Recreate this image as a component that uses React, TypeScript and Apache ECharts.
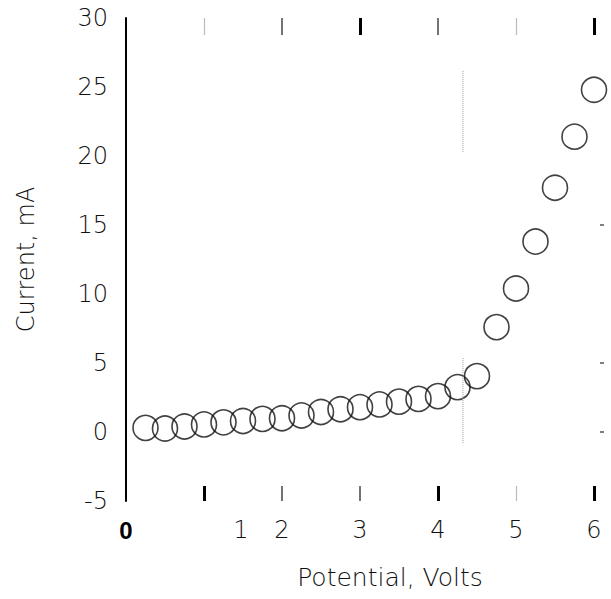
import React, { useEffect, useRef } from "react";
import * as echarts from "echarts";

// Potential (V) and current (mA)
const potential = [
  0.25, 0.5, 0.75, 1.0, 1.25, 1.5, 1.75, 2.0, 2.25, 2.5, 2.75, 3.0,
  3.25, 3.5, 3.75, 4.0, 4.25, 4.5, 4.75, 5.0, 5.25, 5.5, 5.75, 6.0,
];
const current = [
  0.3, 0.25, 0.4, 0.55, 0.7, 0.8, 0.95, 1.0, 1.2, 1.45, 1.65, 1.8,
  2.0, 2.2, 2.4, 2.6, 3.25, 4.05, 7.6, 10.4, 13.8, 17.7, 21.4, 24.8,
];
// dotted marker line segments at V = 4.32
const markerX = 4.32;
const markerSegments = [
  [-0.8, 5.4],
  [20.3, 26.2],
];
const xTicks = [0, 1, 2, 3, 4, 5, 6];
const yTicks = [-5, 0, 5, 10, 15, 20, 25, 30];

const FONT = "DejaVu Sans";
const WEIGHT = 300;
const TEXT = "#111";

export default function App() {
  const ref = useRef<HTMLDivElement>(null);
  useEffect(() => {
    document.body.style.margin = "0";
    if (!ref.current) return;
    const chart = echarts.init(ref.current, undefined, { renderer: "svg" });
    const xMin = xTicks[0];
    const xMax = xTicks[xTicks.length - 1];
    const yMin = yTicks[0];
    const yMax = yTicks[yTicks.length - 1];
    const baseX = {
      type: "value",
      min: xMin,
      max: xMax,
      interval: 1,
      splitLine: { show: false },
      axisLine: { show: false, onZero: false },
    };
    const tickAxis = (position: string, values: number[], len: number, color: string, width: number) => ({
      ...baseX,
      position,
      axisLabel: { show: false },
      axisTick: {
        show: true,
        inside: true,
        length: len,
        customValues: values,
        lineStyle: { color, width },
      },
    });
    const option = {
      animation: false,
      backgroundColor: "#ffffff",
      grid: { left: 126, right: 17, top: 18, bottom: 98 },
      xAxis: [
        {
          ...baseX,
          position: "bottom",
          axisTick: {
            show: true,
            inside: true,
            length: 15,
            customValues: [1, 4, 6],
            lineStyle: { color: "#000", width: 3 },
          },
          axisLabel: {
            margin: 17,
            fontFamily: FONT,
            fontWeight: WEIGHT,
            fontSize: 24,
            color: TEXT,
            formatter: (v: number) =>
              v === 0 ? "{z|0}" : v === 1 ? "{one|1}" : String(v),
            rich: {
              z: { fontFamily: "Liberation Sans", fontWeight: "bold", fontSize: 24, color: "#000" },
              one: { fontFamily: FONT, fontWeight: WEIGHT, fontSize: 24, color: TEXT, padding: [0, 0, 0, 74] },
            },
          },
          name: "Potential, Volts",
          nameLocation: "middle",
          nameGap: 64,
          nameTextStyle: {
            fontFamily: FONT,
            fontWeight: WEIGHT,
            fontSize: 25,
            color: TEXT,
            padding: [0, 0, 0, 60],
          },
        },
        tickAxis("bottom", [2, 3], 15, "#444", 1.5),
        tickAxis("bottom", [5], 15, "#bbb", 1.2),
        tickAxis("top", [3, 6], 17, "#000", 3),
        tickAxis("top", [2, 4], 17, "#444", 1.5),
        tickAxis("top", [1, 5], 17, "#bbb", 1.2),
      ],
      yAxis: [
        {
          type: "value",
          min: yMin,
          max: yMax,
          interval: 5,
          splitLine: { show: false },
          axisLine: { show: true, onZero: false, lineStyle: { color: "#000", width: 2 } },
          axisTick: { show: false },
          axisLabel: {
            margin: 18,
            fontFamily: FONT,
            fontWeight: WEIGHT,
            fontSize: 24,
            color: TEXT,
          },
          name: "Current, mA",
          nameLocation: "middle",
          nameGap: 88,
          nameRotate: 90,
          nameTextStyle: { fontFamily: FONT, fontWeight: WEIGHT, fontSize: 24, color: TEXT },
        },
        {
          type: "value",
          min: yMin,
          max: yMax,
          interval: 5,
          position: "right",
          offset: 6,
          splitLine: { show: false },
          axisLine: { show: false, onZero: false },
          axisLabel: { show: false },
          axisTick: {
            show: true,
            length: 4,
            customValues: [0, 5, 15],
            lineStyle: { color: "#555", width: 1.5 },
          },
        },
      ],
      series: [
        {
          type: "scatter",
          xAxisIndex: 0,
          yAxisIndex: 0,
          symbol: "circle",
          symbolSize: 25,
          clip: false,
          itemStyle: { color: "rgba(0,0,0,0)", borderColor: "#111", borderWidth: 1.6 },
          data: potential.map((p, i) => [p, current[i]]),
        },
        ...markerSegments.map((seg) => ({
          type: "line",
          xAxisIndex: 0,
          yAxisIndex: 0,
          symbol: "none",
          lineStyle: { color: "#999", width: 1, type: "dotted" },
          data: seg.map((y) => [markerX, y]),
        })),
      ],
    };
    chart.setOption(option as any);
    return () => chart.dispose();
  }, []);
  return <div ref={ref} style={{ width: 611, height: 599 }} />;
}
